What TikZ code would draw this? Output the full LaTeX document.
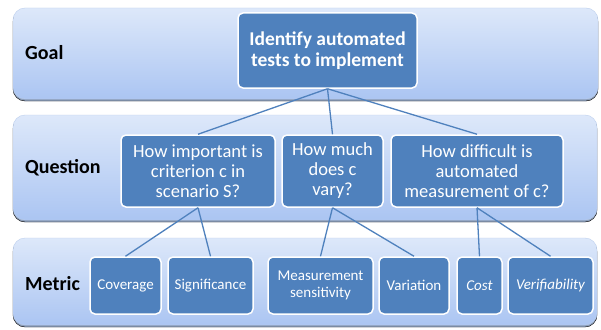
\documentclass[tikz,border=0pt]{standalone}
\usepackage{fontspec}
\setmainfont{Carlito}

\definecolor{boxblue}{HTML}{4F81BD}
\definecolor{bandtop}{HTML}{DDE8FA}
\definecolor{bandbot}{HTML}{ABC5F2}
\definecolor{bandedge}{HTML}{BCCFEE}
\definecolor{bandshadow}{HTML}{8D9FBB}

\begin{document}
\begin{tikzpicture}[x=1pt,y=-1pt,
    band/.style={rounded corners=12pt, draw=bandedge, top color=bandtop, bottom color=bandbot},
    bandshade/.style={rounded corners=12pt, fill=bandshadow},
    box/.style={draw=white, line width=1.5pt, fill=boxblue, rounded corners=5pt,
      text=white, align=center, inner sep=0pt},
    qbox/.style={box, minimum height=72pt, font=\fontsize{18.5}{20}\selectfont},
    mbox/.style={box, minimum height=57pt, font=\fontsize{15}{16.5}\selectfont},
    level/.style={anchor=west, inner sep=0pt, font=\fontsize{20}{22}\selectfont\bfseries},
    link/.style={draw=boxblue, line width=1.3pt}]
      \useasboundingbox (0,0) rectangle (601,329);
      \fill[white] (0,0) rectangle (601,329);

      % Bands with their shadows.
      \draw[bandshade] (13,10) rectangle (598,101);
      \draw[band] (13,8) rectangle (598,99); % Goal band.
      \draw[bandshade] (13,117) rectangle (597,222);
      \draw[band] (13,115) rectangle (597,220); % Question band.
      \draw[bandshade] (13,240) rectangle (597,327);
      \draw[band] (13,238) rectangle (597,325); % Metric band.

      \node[level] (goallbl) at (25,53) {Goal};
      \node[level] (questionlbl) at (25,168) {Question};
      \node[level] (metriclbl) at (25,284) {Metric};

      % Goal.
      \node[box, minimum width=179pt, minimum height=75pt,
        font=\fontsize{19.5}{21}\selectfont\bfseries] (goal) at (327.5,50.5)
        {Identify automated\\tests to implement};

      % Questions.
      \node[qbox, minimum width=154pt] (q1) at (198,171) {How important is\\criterion c in\\scenario S?};
      \node[qbox, minimum width=101pt] (q2) at (332.5,171) {How much\\does c\\vary?};
      \node[qbox, minimum width=172pt] (q3) at (477,171) {How difficult is\\automated\\measurement of c?};

      % Metrics.
      \node[mbox, minimum width=71pt] (coverage) at (125.5,285.5) {Coverage};
      \node[mbox, minimum width=85pt] (significance) at (210.5,285.5) {Significance};
      \node[mbox, minimum width=105pt] (sensitivity) at (320.5,285.5) {Measurement\\sensitivity};
      \node[mbox, minimum width=70pt] (variation) at (414,285.5) {Variation};
      \node[mbox, minimum width=45pt] (cost) at (479.5,285.5) {\itshape Cost};
      \node[mbox, minimum width=85pt] (verifiability) at (550.5,285.5) {\itshape Verifiability};

      % Links.
      \draw[link] (goal.south) -- (q1.north);
      \draw[link] (goal.south) -- (q2.north);
      \draw[link] (goal.south) -- (q3.north);
      \draw[link] (q1.south) -- (coverage.north);
      \draw[link] (q1.south) -- (significance.north);
      \draw[link] (q2.south) -- (sensitivity.north);
      \draw[link] (q2.south) -- (variation.north);
      \draw[link] (q3.south) -- (cost.north);
      \draw[link] (q3.south) -- (verifiability.north);
\end{tikzpicture}
\end{document}
